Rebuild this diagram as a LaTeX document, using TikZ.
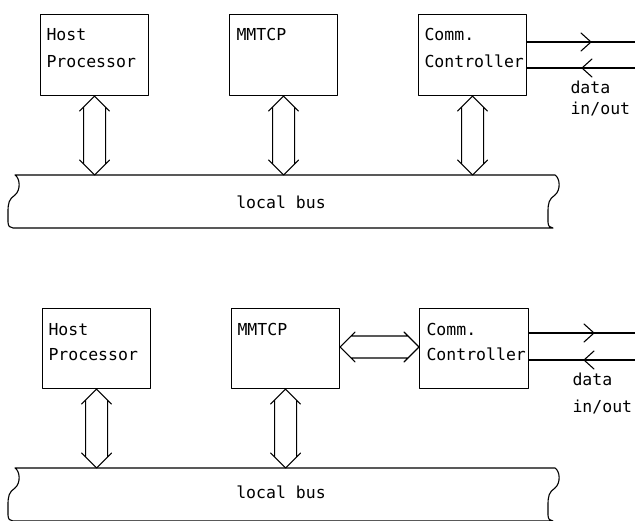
\documentclass[tikz,border=0pt]{standalone}
\usepackage{fontspec}
\setmonofont{DejaVu Sans Mono}
\usetikzlibrary{calc}

\tikzset{
  box/.style={draw, rectangle, anchor=north west, minimum width=108pt,
              minimum height=81pt, inner sep=0pt},
  txt/.style={anchor=base west, inner sep=0pt,
              font=\ttfamily\fontsize{16.5}{20}\selectfont},
  ctxt/.style={txt, anchor=base},
}

% vertical double-headed open arrow: #1 upper tip, #2 lower tip
\newcommand\vdbl[2]{%
  \draw (#1) -- ++(-15,15) (#1) -- ++(15,15)
        (#2) -- ++(-15,-15) (#2) -- ++(15,-15)
        ($(#1)+(-11,11)$) -- ($(#2)+(-11,-11)$)
        ($(#1)+(11,11)$) -- ($(#2)+(11,-11)$);}
% horizontal double-headed open arrow: #1 left tip, #2 right tip
\newcommand\hdbl[2]{%
  \draw (#1) -- ++(15,-15) (#1) -- ++(15,15)
        (#2) -- ++(-15,-15) (#2) -- ++(-15,15)
        ($(#1)+(11,-11)$) -- ($(#2)+(-11,-11)$)
        ($(#1)+(11,11)$) -- ($(#2)+(-11,11)$);}

\begin{document}
\begin{tikzpicture}[x=1pt, y=-1pt, line width=1.1pt, line cap=round, line join=round]
\useasboundingbox (0,0) rectangle (635,520);

%%%%%%%% first arrangement: all three units on the bus %%%%%%%%
\node[box] (host1) at (40,14) {};
\node[box] (mm1)   at (229,14) {};
\node[box] (comm1) at (418,14) {};

\node[txt] (host1a) at (46,40) {Host};
\node[txt] (host1b) at (46,67) {Processor};
\node[txt] (mm1a)   at (236,40) {MMTCP};
\node[txt] (comm1a) at (424,40) {Comm.};
\node[txt] (comm1b) at (424,67) {Controller};

% bus with broken ends
\draw (15,175) -- (555,175)
  .. controls (560,178) and (561,190) .. (555,195)
  .. controls (549,199) and (548,203) .. (548,212) -- (548,222)
  .. controls (548,226) and (550,228) .. (553,228) -- (13,228)
  .. controls (10,228) and (8,226) .. (8,222) -- (8,212)
  .. controls (8,203) and (9,199) .. (15,195)
  .. controls (21,190) and (20,178) .. (15,175) -- cycle;
\node[ctxt] (bus1) at (281,208) {local bus};
\coordinate (bus1top) at (0,175);

\coordinate (h1) at (host1.south |- bus1top);
\coordinate (m1) at (mm1.south |- bus1top);
\coordinate (c1) at (comm1.south |- bus1top);
\vdbl{host1.south}{h1}
\vdbl{mm1.south}{m1}
\vdbl{comm1.south}{c1}

% data lines
\coordinate (out1) at (635,42);
\coordinate (in1)  at (635,68);
\draw (comm1.east |- out1) -- (out1);
\draw (comm1.east |- in1) -- (in1);
\coordinate (chev1a) at (591,42);
\coordinate (chev1b) at (582,68);
\draw ($(chev1a)+(-10,-9)$) -- (chev1a) -- ($(chev1a)+(-10,9)$);
\draw ($(chev1b)+(10,-9)$) -- (chev1b) -- ($(chev1b)+(10,9)$);
\node[txt] (data1a) at (570,93) {data};
\node[txt] (data1b) at (570,114) {in/out};

%%%%%%%% second arrangement: controller attached to the MMTCP %%%%%%%%
\node[box, minimum height=80pt] (host2) at (42,308) {};
\node[box, minimum height=80pt] (mm2)   at (231,308) {};
\node[box, minimum height=80pt, minimum width=109pt] (comm2) at (419,308) {};

\node[txt] (host2a) at (48,335) {Host};
\node[txt] (host2b) at (48,360) {Processor};
\node[txt] (mm2a)   at (237,335) {MMTCP};
\node[txt] (comm2a) at (426,335) {Comm.};
\node[txt] (comm2b) at (426,360) {Controller};

% the lower edge of this bus falls just below the frame
\draw (15,468) -- (555,468)
  .. controls (560,471) and (561,483) .. (555,488)
  .. controls (549,492) and (548,496) .. (548,505) -- (548,515)
  .. controls (548,519) and (550,521) .. (553,521) -- (13,521)
  .. controls (10,521) and (8,519) .. (8,515) -- (8,505)
  .. controls (8,496) and (9,492) .. (15,488)
  .. controls (21,483) and (20,471) .. (15,468) -- cycle;
\node[ctxt] (bus2) at (281,498) {local bus};
\coordinate (bus2top) at (0,468);

\coordinate (h2) at (host2.south |- bus2top);
\coordinate (m2) at (mm2.south |- bus2top);
\vdbl{host2.south}{h2}
\vdbl{mm2.south}{m2}

\coordinate (link2) at (0,347);
\coordinate (l2a) at (mm2.east |- link2);
\coordinate (l2b) at (comm2.west |- link2);
\hdbl{l2a}{l2b}

\coordinate (out2) at (635,333);
\coordinate (in2)  at (635,360);
\draw (comm2.east |- out2) -- (out2);
\draw (comm2.east |- in2) -- (in2);
\coordinate (chev2a) at (594,333);
\coordinate (chev2b) at (584,360);
\draw ($(chev2a)+(-10,-9)$) -- (chev2a) -- ($(chev2a)+(-10,9)$);
\draw ($(chev2b)+(10,-9)$) -- (chev2b) -- ($(chev2b)+(10,9)$);
\node[txt] (data2a) at (572,385) {data};
\node[txt] (data2b) at (572,412) {in/out};
\end{tikzpicture}
\end{document}
